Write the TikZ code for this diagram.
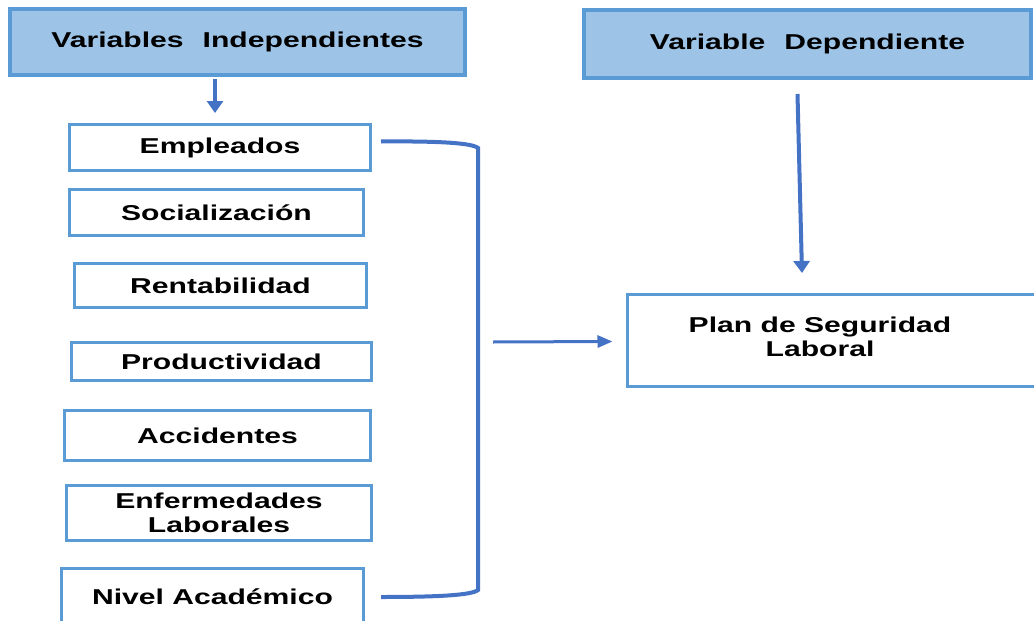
\documentclass[tikz,border=0pt]{standalone}
\usepackage{fontspec}
\setmainfont{Liberation Sans}[FakeStretch=1.4]
\usetikzlibrary{arrows.meta,calc}
\definecolor{bord}{HTML}{5B9BD5}
\definecolor{conn}{HTML}{4472C4}
\definecolor{head}{HTML}{9DC3E6}
\begin{document}
\begin{tikzpicture}[x=1pt,y=-1pt,
  every node/.style={font=\fontsize{21.5}{24}\selectfont\bfseries, inner sep=0pt, align=center},
  hbox/.style={draw=bord, fill=head, line width=4pt},
  vbox/.style={draw=bord, fill=white, line width=3pt},
  arr/.style={draw=conn, line width=4pt, -{Triangle[width=16pt,length=12pt]}},
  harr/.style={draw=conn, line width=3pt, -{Triangle[width=12pt,length=15pt]}},
  brk/.style={draw=conn, line width=4pt}]
\useasboundingbox (0,0) rectangle (1034,621);
% headers
\node[hbox, minimum width=455, minimum height=66] (vi) at (237.5,42) {Variables\hspace{0.5em} Independientes};
\node[hbox, minimum width=447, minimum height=68] (vd) at (807.5,44) {Variable\hspace{0.5em} Dependiente};
% independent variable boxes
\node[vbox, minimum width=301, minimum height=46] (emp) at (220,147.5) {Empleados};
\node[vbox, minimum width=294, minimum height=46] (soc) at (216.5,212.5) {Socialización};
\node[vbox, minimum width=292, minimum height=44] (ren) at (220.5,285.5) {Rentabilidad};
\node[vbox, minimum width=300, minimum height=38] (pro) at (221.5,361.5) {Productividad};
\node[vbox, minimum width=306, minimum height=50] (acc) at (217.5,435.5) {Accidentes};
\node[vbox, minimum width=305, minimum height=55] (enf) at (219,513) {Enfermedades\\Laborales};
\node[vbox, minimum width=302, minimum height=58] (niv) at (212.5,597) {Nivel Académico};
% dependent box
\node[vbox, minimum width=420, minimum height=92] (plan) at (837,340.5) {};
\node (plantext) at (820,337) {Plan de Seguridad\\Laboral};
% connectors
\draw[arr] ([xshift=-5pt,yshift=-2pt]emp.north |- vi.south) -- ([xshift=-5pt,yshift=10pt]emp.north);
\draw[arr] ([xshift=-10pt,yshift=-14pt]vd.south) -- ([xshift=-35pt,yshift=20pt]plan.north);
\coordinate (bt) at (478,148);
\coordinate (bb) at (478,590);
\coordinate (bmid) at (493,342);
\draw[brk] ([xshift=9pt,yshift=6pt]emp.east) .. controls (440,141) and (472,143) .. (bt) -- (bb) .. controls (472,595) and (440,597) .. ([xshift=16pt]niv.east);
\draw[harr] (bmid) -- ([xshift=-13pt,yshift=-1pt]plan.west);
\end{tikzpicture}
\end{document}
